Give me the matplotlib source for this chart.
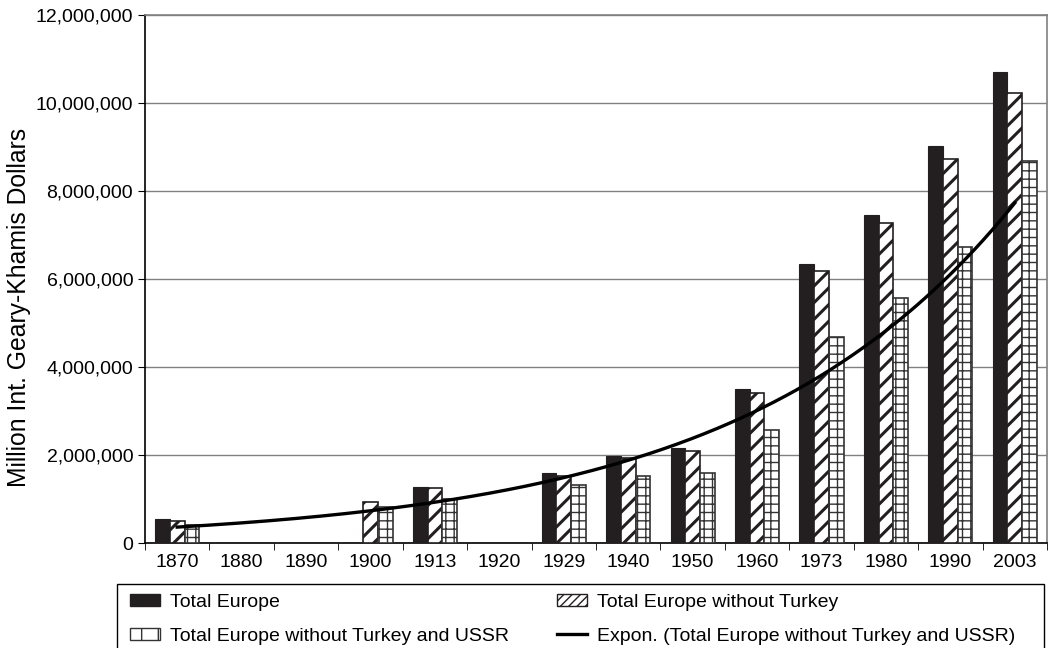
import numpy as np
import matplotlib
matplotlib.use("Agg")
import matplotlib.pyplot as plt
from matplotlib.patches import Patch, Rectangle
from matplotlib.lines import Line2D
from matplotlib.ticker import FuncFormatter, MultipleLocator

plt.rcParams["font.family"] = ["Liberation Sans", "DejaVu Sans"]
plt.rcParams["font.size"] = 14

years = ["1870", "1880", "1890", "1900", "1913", "1920", "1929",
         "1940", "1950", "1960", "1973", "1980", "1990", "2003"]
nan = np.nan
# million 1990 Int. Geary-Khamis dollars
total_europe = [540000, nan, nan, nan, 1270000, nan, 1580000,
                1980000, 2150000, 3490000, 6340000, 7450000, 9030000, 10700000]
without_turkey = [490000, nan, nan, 930000, 1250000, nan, 1520000,
                  1940000, 2100000, 3420000, 6190000, 7270000, 8720000, 10230000]
without_turkey_ussr = [420000, nan, nan, 830000, 1000000, nan, 1310000,
                       1520000, 1580000, 2570000, 4680000, 5560000, 6730000, 8680000]

x = np.arange(len(years))
w = 0.228
dark = "#231f20"
gray = "#808080"

fig = plt.figure(figsize=(10.53, 6.48), dpi=100)
ax = fig.add_axes([0.1377, 0.162, 0.8566, 0.8149])

ax.bar(x - w, total_europe, w, color=dark, edgecolor=dark, linewidth=0.8, zorder=3)
with plt.rc_context({"hatch.linewidth": 2.2}):
    ax.bar(x, without_turkey, w, color="white", edgecolor=dark, hatch="//",
           linewidth=1.2, zorder=3)
with plt.rc_context({"hatch.linewidth": 1.0}):
    ax.bar(x + w, without_turkey_ussr, w, color="white", edgecolor="#333333",
           hatch="++", linewidth=1.2, zorder=3)

# Excel-style exponential trendline on the last series (category index as x)
yv = np.array(without_turkey_ussr, dtype=float)
ok = ~np.isnan(yv)
b, a = np.polyfit(x[ok], np.log(yv[ok]), 1)
xt = np.linspace(0, len(years) - 1, 300)
ax.plot(xt, np.exp(a + b * xt), color="black", linewidth=2.4, zorder=4)

ax.set_xlim(-0.5, len(years) - 0.5)
ax.set_ylim(0, 12000000)
ax.yaxis.set_major_locator(MultipleLocator(2000000))
ax.yaxis.set_major_formatter(FuncFormatter(lambda v, p: f"{int(v):,}"))
ax.set_xticks(x)
ax.set_xticklabels(years)
ax.set_xticks(np.arange(-0.5, len(years)), minor=True)
ax.tick_params(axis="x", which="major", length=0, pad=8)
ax.tick_params(axis="x", which="minor", length=5, direction="out", color="black")
ax.tick_params(axis="y", length=5, direction="out", color="black")
ax.grid(axis="y", color=gray, linewidth=1.0, zorder=0)
ax.set_axisbelow(True)

ax.spines["left"].set_color("black")
ax.spines["bottom"].set_color("black")
ax.spines["top"].set_color(gray)
ax.spines["right"].set_color(gray)
for s in ax.spines.values():
    s.set_linewidth(1.2)

fig.text(0.018, 0.525, "Million Int. Geary-Khamis Dollars", rotation=90,
         ha="center", va="center", fontsize=17.8)

handles = [
    Patch(facecolor=dark, edgecolor=dark, label="Total Europe"),
    Patch(facecolor="white", edgecolor="#333333", hatch="|", label="Total Europe without Turkey and USSR"),
    Patch(facecolor="white", edgecolor=dark, hatch="////", label="Total Europe without Turkey"),
    Line2D([], [], color="black", linewidth=2.4, label="Expon. (Total Europe without Turkey and USSR)"),
]
leg = fig.legend(handles=handles, ncol=2, loc="upper left",
                 bbox_to_anchor=(0.1235, 0.0833),
                 frameon=False,
                 handlelength=1.54, handleheight=0.55, handletextpad=0.5,
                 borderaxespad=0, labelspacing=0.86, borderpad=0,
                 columnspacing=2.5)

# legend box, running off the bottom edge as in the source
fig.add_artist(Rectangle((117 / 1053, -0.05), (1044 - 117) / 1053, 0.05 + 0.0988,
                         transform=fig.transFigure, fill=False,
                         edgecolor="black", linewidth=1.0))

fig.savefig("out.png", dpi=100)
